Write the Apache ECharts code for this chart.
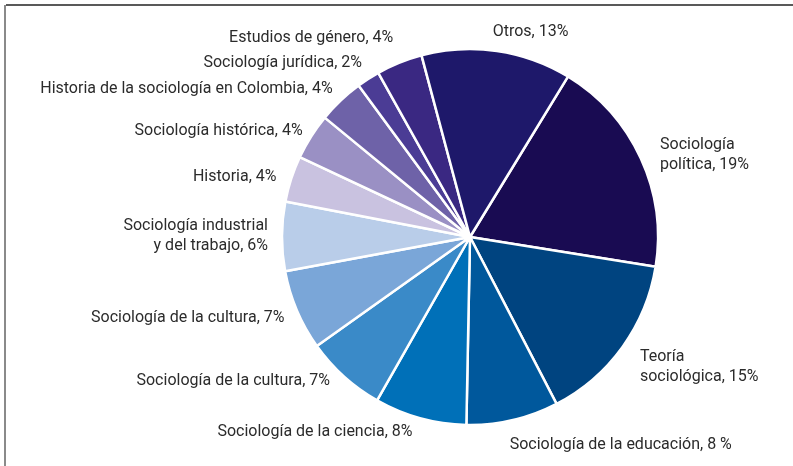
<!DOCTYPE html>
<html>
<head>
<meta charset="utf-8">
<title>Áreas de la sociología</title>
<script src="https://cdn.jsdelivr.net/npm/echarts@6/dist/echarts.min.js"></script>
<style>
  html, body { margin: 0; padding: 0; background: #fff; }
  #pie-areas { width: 793px; height: 466px; }
</style>
</head>
<body>
<div id="pie-areas"></div>
<script>
// categorías en el orden del reloj, empezando por Sociología política
var areas = [
  'Sociología\npolítica',
  'Teoría\nsociológica',
  'Sociología de la educación',
  'Sociología de la ciencia',
  'Sociología de la cultura',
  'Sociología de la cultura',
  'Sociología industrial\ny del trabajo',
  'Historia',
  'Sociología histórica',
  'Historia de la sociología en Colombia',
  'Sociología jurídica',
  'Estudios de género',
  'Otros'
];
// porcentajes (tal como aparecen en la figura, suman 101)
var porcentajes = [19, 15, 8, 8, 7, 7, 6, 4, 4, 4, 2, 4, 13];
// texto del porcentaje en la etiqueta
var sufijos = ['%', '%', ' %', '%', '%', '%', '%', '%', '%', '%', '%', '%', '%'];

var colores = ['#190b52', '#004480', '#00589c', '#0070b8', '#3a8ac8', '#7aa6d8',
  '#b9cde9', '#c9c2e0', '#9a90c4', '#6e62a8', '#4b3c95', '#3a2882', '#1e186a'];

// largo de la guía (invisible) de cada etiqueta: [length, length2]
var guias = [[8, 7], [34, -15], [26, -14], [14, -1], [6, 5], [20, -11],
  [7, 2], [6, 4], [10, -5], [16, -8], [19, -9], [27, -9], [19, -12]];

var myChart = echarts.init(document.getElementById('pie-areas'));

var datos = areas.map(function (nombre, i) {
  return {
    name: nombre,
    value: porcentajes[i],
    itemStyle: { color: colores[i] },
    labelLine: { show: false, length: guias[i][0], length2: guias[i][1] },
    label: {
      formatter: nombre + ', ' + porcentajes[i] + sufijos[i]
    }
  };
});

option = {
  animation: false,
  backgroundColor: '#fff',
  graphic: [
    {
      type: 'line',
      shape: { x1: 6, y1: 5, x2: 793, y2: 5 },
      style: { stroke: '#222', lineWidth: 1.5 }
    },
    {
      type: 'line',
      shape: { x1: 5, y1: 5, x2: 5, y2: 466 },
      style: { stroke: '#8a8a8a', lineWidth: 2 }
    }
  ],
  series: [
    {
      type: 'pie',
      center: [470, 237],
      radius: 188,
      startAngle: 58.6,
      clockwise: true,
      avoidLabelOverlap: false,
      itemStyle: {
        borderColor: '#fff',
        borderWidth: 2.5
      },
      label: {
        show: true,
        position: 'outside',
        alignTo: 'none',
        distanceToLabelLine: 5,
        color: '#2b2b2b',
        fontFamily: 'Roboto',
        fontSize: 16,
        lineHeight: 20
      },
      emphasis: { disabled: true },
      data: datos
    }
  ]
};

myChart.setOption(option);
</script>
</body>
</html>
